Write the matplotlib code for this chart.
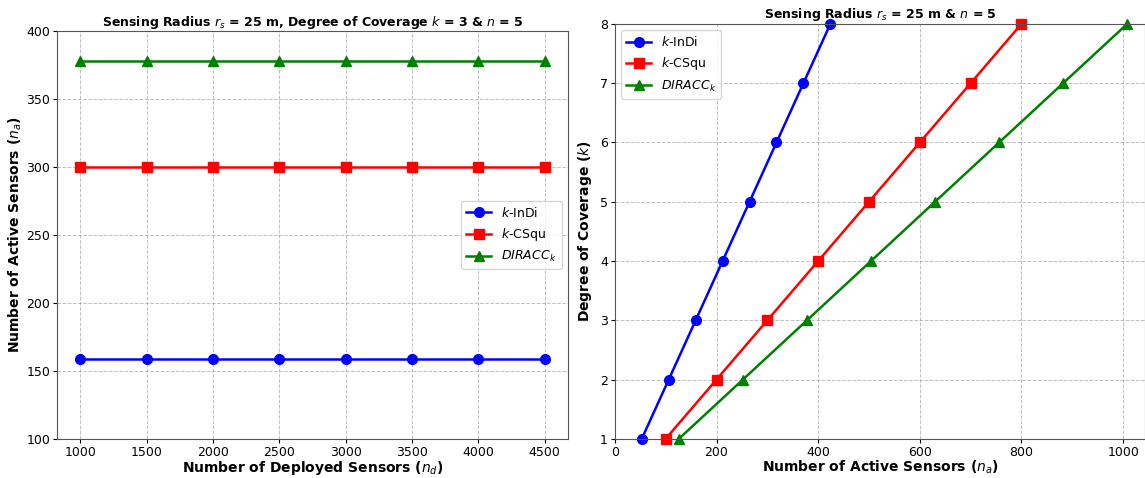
import numpy as np
import matplotlib.pyplot as plt

# left panel data
deployed = [1000, 1500, 2000, 2500, 3000, 3500, 4000, 4500]
indi_active = [159, 159, 159, 159, 159, 159, 159, 159]
csqu_active = [300, 300, 300, 300, 300, 300, 300, 300]
diracc_active = [378, 378, 378, 378, 378, 378, 378, 378]

# right panel data
k_vals = [1, 2, 3, 4, 5, 6, 7, 8]
indi_na = [53, 106, 159, 212, 265, 318, 371, 424]
csqu_na = [100, 200, 300, 400, 500, 600, 700, 800]
diracc_na = [126, 252, 378, 504, 630, 756, 882, 1008]

labels = [r'$k$-InDi', r'$k$-CSqu', r'$DIRACC_k$']
styles = [('blue', 'o', 7), ('red', 's', 7), ('green', '^', 7)]
fs = 9
lfs = 10

fig = plt.figure(figsize=(11.45, 4.78), dpi=100)
ax1 = fig.add_axes([0.050, 0.082, 0.446, 0.853])
ax2 = fig.add_axes([0.537, 0.082, 0.463, 0.868])

for ys, lab, (c, m, ms) in zip([indi_active, csqu_active, diracc_active], labels, styles):
    ax1.plot(deployed, ys, color=c, marker=m, markersize=ms, linewidth=1.8, label=lab)
ax1.set_ylim(100, 400)
ax1.set_xticks(deployed)
ax1.set_xlabel(r'Number of Deployed Sensors ($n_d$)', fontsize=lfs, fontweight='bold', labelpad=0)
ax1.set_ylabel(r'Number of Active Sensors ($n_a$)', fontsize=lfs, fontweight='bold', labelpad=2)
ax1.set_title(r'Sensing Radius $r_s$ = 25 m, Degree of Coverage $k$ = 3 & $n$ = 5',
              fontsize=fs, fontweight='bold', pad=4)
ax1.grid(True, linestyle='--', color='gray', alpha=0.5, linewidth=0.7)
ax1.legend(loc='center right', fontsize=fs)

for xs, lab, (c, m, ms) in zip([indi_na, csqu_na, diracc_na], labels, styles):
    ax2.plot(xs, k_vals, color=c, marker=m, markersize=ms, linewidth=1.8, label=lab, clip_on=False)
ax2.set_xlim(0, 1043)
ax2.set_ylim(1, 8)
ax2.set_xticks([0, 200, 400, 600, 800, 1000])
ax2.set_xlabel(r'Number of Active Sensors ($n_a$)', fontsize=lfs, fontweight='bold', labelpad=0)
ax2.set_ylabel(r'Degree of Coverage ($k$)', fontsize=lfs, fontweight='bold', labelpad=4)
ax2.set_title(r'Sensing Radius $r_s$ = 25 m & $n$ = 5', fontsize=fs, fontweight='bold', pad=4)
ax2.grid(True, linestyle='--', color='gray', alpha=0.5, linewidth=0.7)
ax2.legend(loc='upper left', fontsize=fs)

for ax in (ax1, ax2):
    ax.tick_params(labelsize=fs, length=3, pad=2)
    for s in ax.spines.values():
        s.set_color('#555555')

fig.savefig('out.png', dpi=100)
